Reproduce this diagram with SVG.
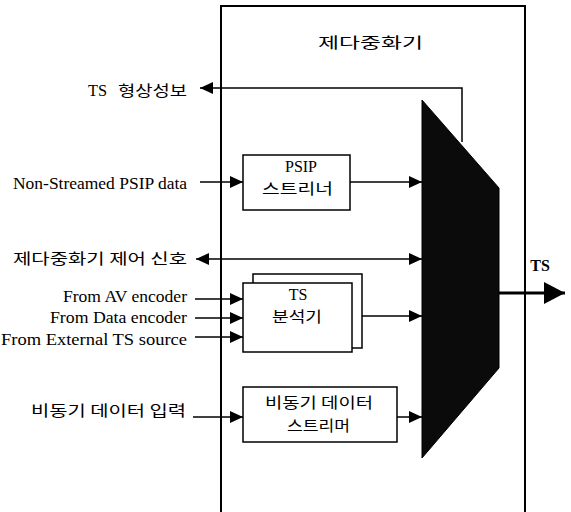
<svg xmlns="http://www.w3.org/2000/svg" width="571" height="512" viewBox="0 0 571 512">
<style>
.en{font-family:"Liberation Serif","Times New Roman",serif;font-size:16px;fill:#000}
.ko{font-family:"Noto Sans CJK KR","Noto Sans",sans-serif;font-size:15px;fill:#000}
.box{fill:#fff;stroke:#000;stroke-width:1.5}
.ln{fill:none;stroke:#000;stroke-width:1.5}
</style>
<defs>
<marker id="ah" markerUnits="userSpaceOnUse" markerWidth="14" markerHeight="12" refX="13" refY="6" orient="auto-start-reverse">
<path d="M0,0 L13,6 L0,12 Z" fill="#000"/>
</marker>
<marker id="big" markerUnits="userSpaceOnUse" markerWidth="22" markerHeight="22" refX="21" refY="11" orient="auto">
<path d="M0,0 L21,11 L0,22 Z" fill="#000"/>
</marker>
</defs>

<g id="remux">
<path d="M221,512 V6 H525 V512" fill="none" stroke="#000" stroke-width="2"/>
<text class="ko" x="318" y="48" font-size="17" textLength="105" lengthAdjust="spacingAndGlyphs">제다중화기</text>
</g>

<g id="mux">
<polygon points="422,100 499,188 499,368 422,458" fill="#0b0b0b" stroke="#000" stroke-width="1"/>
</g>

<g id="psip">
<rect class="box" x="243" y="155" width="107" height="55"/>
<text class="en" x="301" y="172" text-anchor="middle" font-size="15">PSIP</text>
<text class="ko" x="262" y="194" font-size="14" textLength="71" lengthAdjust="spacingAndGlyphs">스트리너</text>
</g>

<g id="tsanalyzer">
<rect class="box" x="253" y="274" width="109" height="74"/>
<rect class="box" x="243" y="283" width="109" height="69"/>
<text class="en" x="298" y="300" text-anchor="middle" font-size="15">TS</text>
<text class="ko" x="272" y="322" font-size="14" textLength="50" lengthAdjust="spacingAndGlyphs">분석기</text>
</g>

<g id="async">
<rect class="box" x="243" y="387" width="154" height="55"/>
<text class="ko" x="265" y="408" font-size="14" textLength="108" lengthAdjust="spacingAndGlyphs">비동기 데이터</text>
<text class="ko" x="287" y="431" font-size="14" textLength="63" lengthAdjust="spacingAndGlyphs">스트리머</text>
</g>

<g id="labels">
<text class="en" x="88" y="96" textLength="19" lengthAdjust="spacingAndGlyphs">TS</text>
<text class="ko" x="187" y="96" text-anchor="end" textLength="69" lengthAdjust="spacingAndGlyphs">형상성보</text>
<text class="en" x="187" y="189" text-anchor="end" textLength="174" lengthAdjust="spacingAndGlyphs">Non-Streamed PSIP data</text>
<text class="ko" x="187" y="264" text-anchor="end" textLength="174" lengthAdjust="spacingAndGlyphs">제다중화기 제어 신호</text>
<text class="en" x="187" y="302" text-anchor="end" textLength="124" lengthAdjust="spacingAndGlyphs">From AV encoder</text>
<text class="en" x="187" y="323" text-anchor="end" textLength="137" lengthAdjust="spacingAndGlyphs">From Data encoder</text>
<text class="en" x="187" y="345" text-anchor="end" textLength="186" lengthAdjust="spacingAndGlyphs">From External TS source</text>
<text class="ko" x="186" y="416" text-anchor="end" textLength="155" lengthAdjust="spacingAndGlyphs">비동기 데이터 입력</text>
<text class="en" x="540" y="271" text-anchor="middle" font-weight="bold" font-size="15">TS</text>
</g>

<g id="connectors">
<polyline class="ln" points="462,142 462,88 200,88" marker-end="url(#ah)"/>
<line class="ln" x1="200" y1="182" x2="243" y2="182" marker-end="url(#ah)"/>
<line class="ln" x1="350" y1="182" x2="422" y2="182" marker-end="url(#ah)"/>
<line class="ln" x1="196" y1="259" x2="422" y2="259" marker-start="url(#ah)" marker-end="url(#ah)"/>
<line class="ln" x1="195" y1="299" x2="243" y2="299" marker-end="url(#ah)"/>
<line class="ln" x1="195" y1="318" x2="243" y2="318" marker-end="url(#ah)"/>
<line class="ln" x1="195" y1="337" x2="243" y2="337" marker-end="url(#ah)"/>
<line class="ln" x1="362" y1="316" x2="422" y2="316" marker-end="url(#ah)"/>
<line class="ln" x1="193" y1="417" x2="243" y2="417" marker-end="url(#ah)"/>
<line class="ln" x1="397" y1="417" x2="422" y2="417" marker-end="url(#ah)"/>
<line x1="499" y1="293" x2="565" y2="293" stroke="#000" stroke-width="3" marker-end="url(#big)"/>
</g>
</svg>
